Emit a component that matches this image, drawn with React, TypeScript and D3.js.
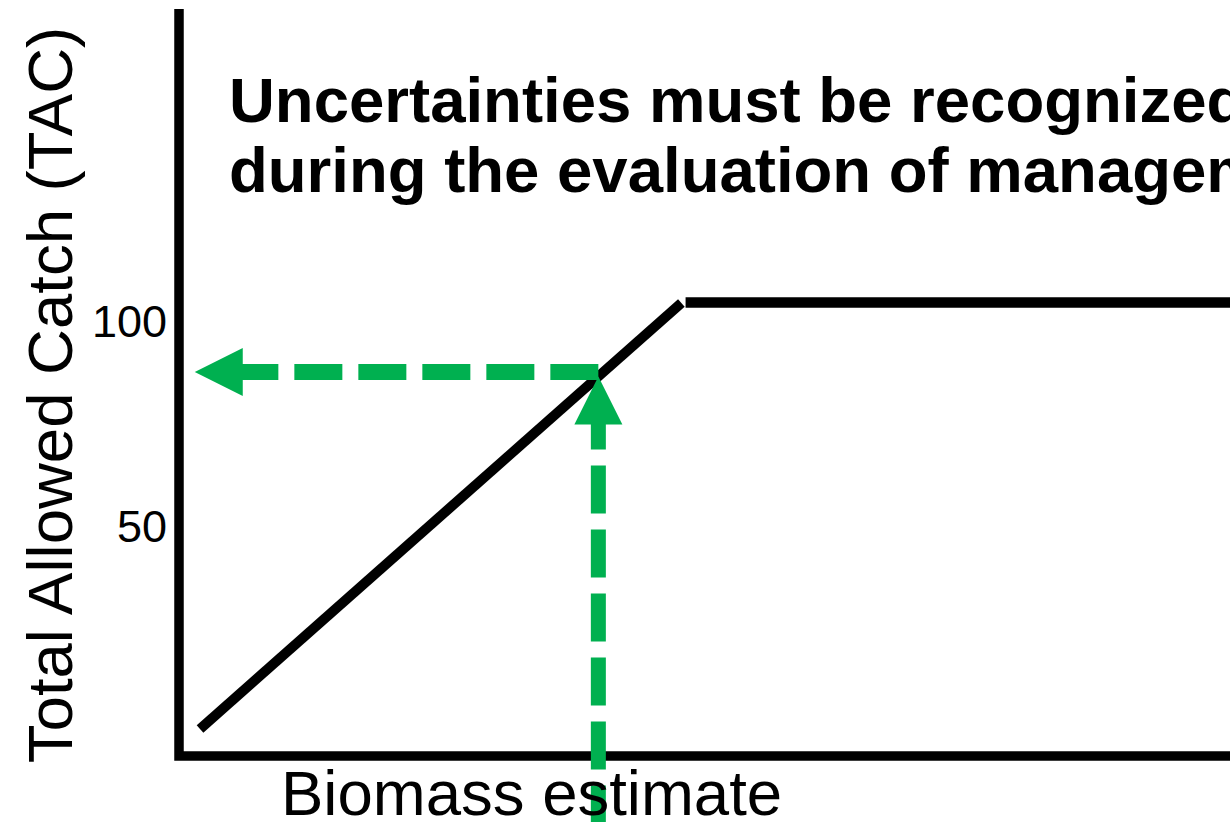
import React from 'react';
import { scaleLinear, line } from 'd3';

// harvest control rule, biomass (x) vs TAC (y)
const rampBiomass = [2.0, 47.8];
const rampTac = [0.6, 104.4];
const plateauBiomass = [48.2, 100];
const plateauTac = [104.5, 104.5];

// the biomass estimate read through the rule
const estimateBiomass = 39.9;
const estimateTac = 87.6;
const tacArrowTo = 1.5; // where the horizontal arrow points on the biomass axis
const biomassArrowFrom = -24; // vertical arrow comes from below the axis

const yTicks = [50, 100];

const titleLines = [
  'Uncertainties must be recognized',
  'during the evaluation of management strategies',
];
const xLabel = 'Biomass estimate';
const yLabel = 'Total Allowed Catch (TAC)';

const W = 1230;
const H = 822;
const left = 179;
const right = 1230;
const top = 9;
const bottom = 756;

const GREEN = '#00B050';
const FONT = '"Liberation Sans", Arial, sans-serif';

export default function App() {
  const x = scaleLinear().domain([0, 100]).range([left, right]);
  const y = scaleLinear().domain([-6, 100]).range([bottom, 321]);

  const path = line<[number, number]>()
    .x(d => x(d[0]))
    .y(d => y(d[1]));

  const ramp = rampBiomass.map((b, i) => [b, rampTac[i]] as [number, number]);
  const plateau = plateauBiomass.map((b, i) => [b, plateauTac[i]] as [number, number]);

  // where the vertical arrow meets the ramp
  const slope = (rampTac[1] - rampTac[0]) / (rampBiomass[1] - rampBiomass[0]);
  const rampAtEstimate = rampTac[0] + (estimateBiomass - rampBiomass[0]) * slope;

  const head = 48;
  const half = 24;

  const ex = x(estimateBiomass);
  const ey = y(estimateTac);
  const hTip = x(tacArrowTo);
  const vTip = y(rampAtEstimate);

  return (
    <svg
      width={W}
      height={H}
      style={{ position: 'absolute', left: 0, top: 0, display: 'block', background: '#fff' }}
    >
      {/* axes */}
      <path
        d={`M${left},${top} V${bottom} H${right}`}
        fill="none"
        stroke="#000"
        strokeWidth={9.5}
        strokeLinejoin="miter"
      />

      {/* rule */}
      <path d={path(ramp) || ''} fill="none" stroke="#000" strokeWidth={10} />
      <path d={path(plateau) || ''} fill="none" stroke="#000" strokeWidth={10.5} />

      {/* horizontal arrow: estimate -> TAC axis */}
      <line
        x1={ex}
        y1={ey}
        x2={hTip + head * 0.75}
        y2={ey}
        stroke={GREEN}
        strokeWidth={16}
        strokeDasharray="48 16"
      />
      <polygon
        points={`${hTip},${ey} ${hTip + head},${ey - half} ${hTip + head},${ey + half}`}
        fill={GREEN}
      />

      {/* vertical arrow: biomass axis -> rule */}
      <line
        x1={ex}
        y1={vTip + 25}
        x2={ex}
        y2={y(biomassArrowFrom)}
        stroke={GREEN}
        strokeWidth={15}
        strokeDasharray="48 16"
      />
      <polygon
        points={`${ex},${vTip} ${ex - half},${vTip + head} ${ex + half},${vTip + head}`}
        fill={GREEN}
      />

      {/* tick labels */}
      {yTicks.map(t => (
        <text
          key={t}
          x={left - 12}
          y={y(t)}
          dy="0.36em"
          textAnchor="end"
          fontFamily={FONT}
          fontSize={45}
          fill="#000"
        >
          {t}
        </text>
      ))}

      {/* axis labels */}
      <text
        x={281}
        y={815}
        fontFamily={FONT}
        fontSize={63.5}
        fill="#000"
      >
        {xLabel}
      </text>
      <text
        transform="translate(72,395) rotate(-90)"
        textAnchor="middle"
        fontFamily={FONT}
        fontSize={63.5}
        fill="#000"
      >
        {yLabel}
      </text>

      {/* title */}
      {titleLines.map((t, i) => (
        <text
          key={i}
          x={229}
          y={122 + i * 70}
          fontFamily={FONT}
          fontSize={63.5}
          fontWeight="bold"
          fill="#000"
        >
          {t}
        </text>
      ))}
    </svg>
  );
}
